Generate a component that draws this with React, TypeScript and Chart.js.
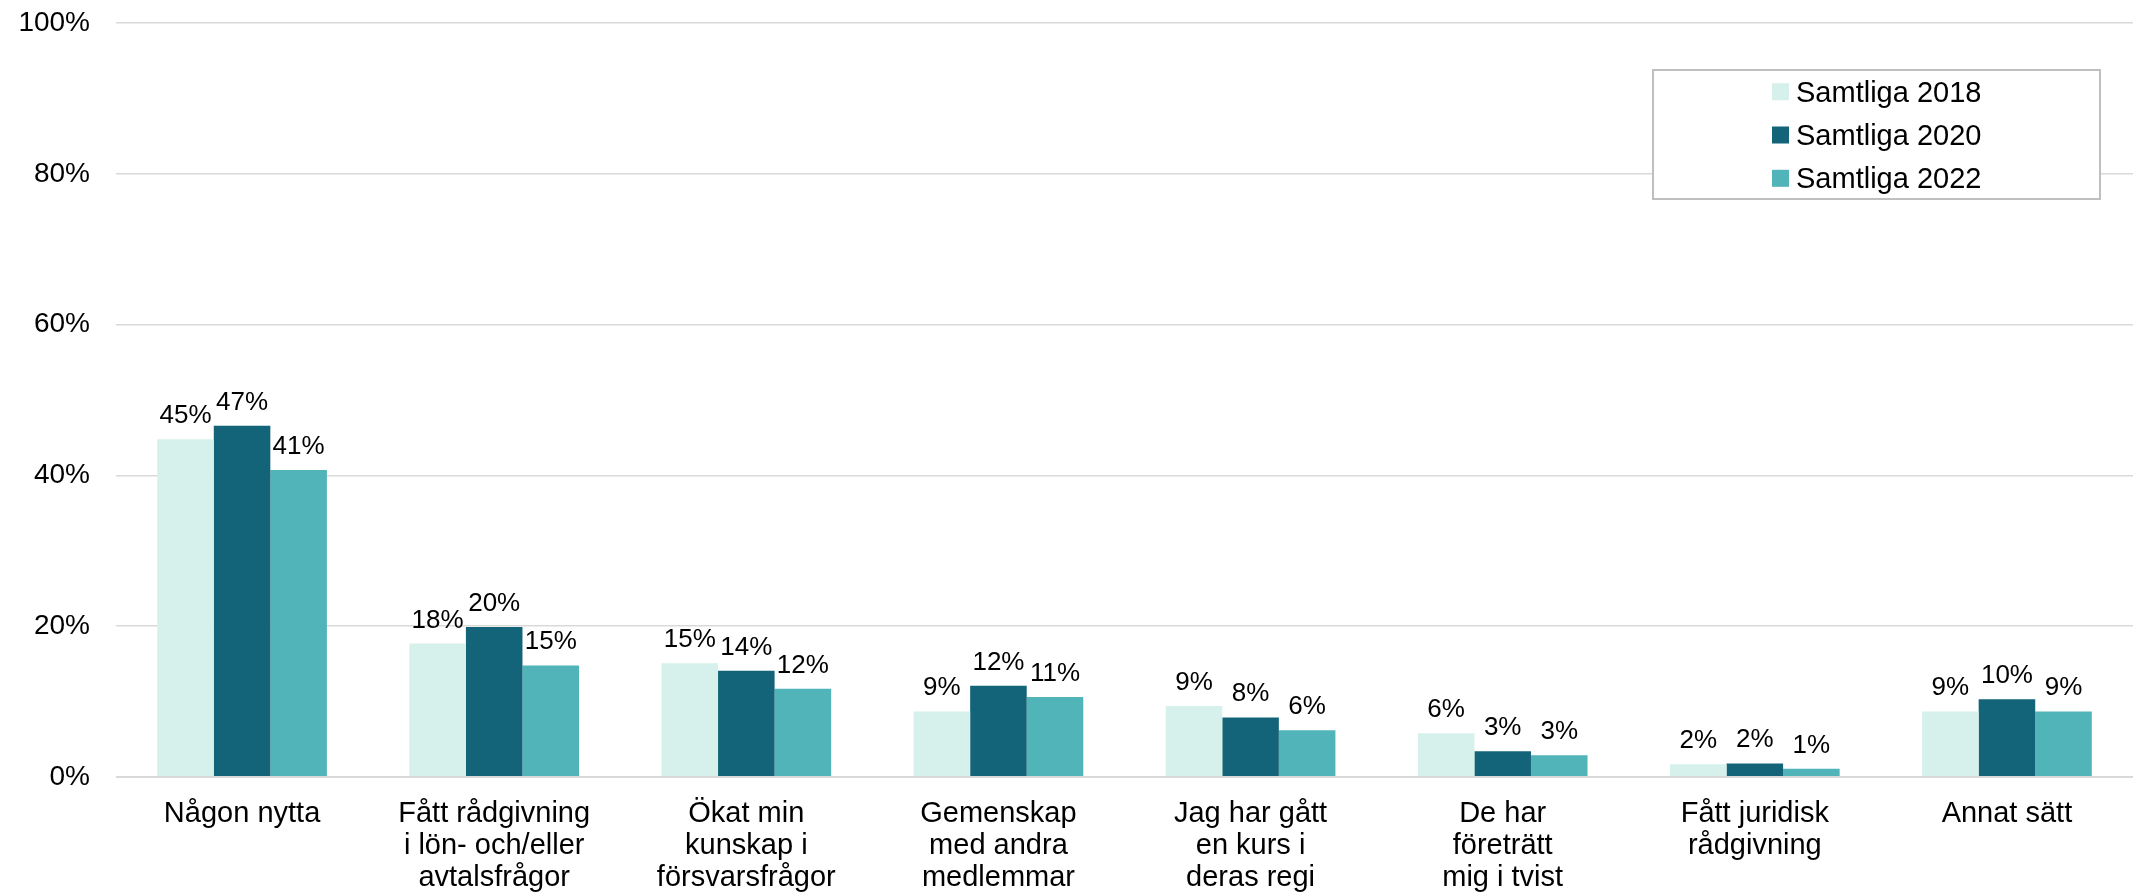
import React, { useEffect, useRef } from "react";
import { Chart, registerables } from "chart.js";

Chart.register(...registerables);

const categories: (string | string[])[] = [
  "Någon nytta",
  ["Fått rådgivning", "i lön- och/eller", "avtalsfrågor"],
  ["Ökat min", "kunskap i", "försvarsfrågor"],
  ["Gemenskap", "med andra", "medlemmar"],
  ["Jag har gått", "en kurs i", "deras regi"],
  ["De har", "företrätt", "mig i tvist"],
  ["Fått juridisk", "rådgivning"],
  "Annat sätt",
];

const seriesNames = ["Samtliga 2018", "Samtliga 2020", "Samtliga 2022"];
const values2018 = [44.8, 17.7, 15.1, 8.7, 9.4, 5.8, 1.7, 8.7];
const values2020 = [46.6, 19.9, 14.1, 12.1, 7.9, 3.4, 1.8, 10.3];
const values2022 = [40.7, 14.8, 11.7, 10.6, 6.2, 2.9, 1.1, 8.7];
const seriesColors = ["#d6f1ec", "#136478", "#50b4b9"];
const yTicks = [0, 20, 40, 60, 80, 100];

const FONT = "'Liberation Sans', Arial, sans-serif";

const dataLabelPlugin = {
  id: "dataLabels",
  afterDatasetsDraw(chart: any) {
    const ctx = chart.ctx;
    ctx.save();
    ctx.font = `26px ${FONT}`;
    ctx.fillStyle = "#000";
    ctx.textAlign = "center";
    ctx.textBaseline = "alphabetic";
    chart.data.datasets.forEach((ds: any, i: number) => {
      const meta = chart.getDatasetMeta(i);
      meta.data.forEach((bar: any, j: number) => {
        const v = ds.data[j];
        ctx.fillText(Math.round(v) + "%", bar.x, bar.y - 16);
      });
    });
    ctx.restore();
  },
};

const legendPlugin = {
  id: "boxLegend",
  afterDraw(chart: any) {
    const ctx = chart.ctx;
    ctx.save();
    const x0 = 1653, y0 = 70, w = 447, h = 129;
    ctx.fillStyle = "#fff";
    ctx.fillRect(x0, y0, w, h);
    ctx.strokeStyle = "#bfbfbf";
    ctx.lineWidth = 2;
    ctx.strokeRect(x0, y0, w, h);
    ctx.font = `29px ${FONT}`;
    ctx.textAlign = "left";
    ctx.textBaseline = "alphabetic";
    const centers = [91.7, 135, 178.3];
    chart.data.datasets.forEach((ds: any, i: number) => {
      const cy = centers[i];
      ctx.fillStyle = ds.backgroundColor;
      ctx.fillRect(1772, cy - 8.5, 17, 17);
      ctx.fillStyle = "#000";
      ctx.fillText(ds.label, 1796, cy + 10);
    });
    ctx.restore();
  },
};

export default function App() {
  const ref = useRef<HTMLCanvasElement>(null);
  useEffect(() => {
    document.body.style.margin = "0";
    const canvas = ref.current!;
    const chart = new Chart(canvas, {
      type: "bar",
      data: {
        labels: categories,
        datasets: [values2018, values2020, values2022].map((vals, i) => ({
          label: seriesNames[i],
          data: vals,
          backgroundColor: seriesColors[i],
          borderWidth: 0,
          categoryPercentage: 0.673,
          barPercentage: 1,
        })),
      },
      options: {
        responsive: false,
        animation: false,
        layout: { padding: { top: 23, left: 0, right: 0, bottom: 0 } },
        plugins: {
          legend: { display: false },
          tooltip: { enabled: false },
        },
        scales: {
          x: {
            grid: { display: false },
            border: { display: false },
            ticks: {
              color: "#000",
              font: { family: FONT, size: 29, lineHeight: 1.1 },
              padding: 13,
              maxRotation: 0,
              autoSkip: false,
            },
            afterFit(scale: any) {
              scale.height = 118;
            },
          },
          y: {
            min: 0,
            max: 100,
            afterBuildTicks(scale: any) {
              scale.ticks = yTicks.map((v) => ({ value: v }));
            },
            grid: {
              color: "#d9d9d9",
              lineWidth: (c: any) => (c.tick && c.tick.value === 0 ? 2 : 1.5),
              drawTicks: true,
              tickLength: 26,
              tickColor: "rgba(0,0,0,0)",
            },
            border: { display: false },
            ticks: {
              color: "#000",
              font: { family: FONT, size: 28 },
              padding: 0,
              callback: (v: any) => v + "%",
            },
            afterFit(scale: any) {
              scale.width = 116;
            },
          },
        },
      },
      plugins: [dataLabelPlugin, legendPlugin],
    });
    return () => chart.destroy();
  }, []);
  return (
    <div style={{ width: 2133, height: 895 }}>
      <canvas ref={ref} width={2133} height={895} />
    </div>
  );
}
